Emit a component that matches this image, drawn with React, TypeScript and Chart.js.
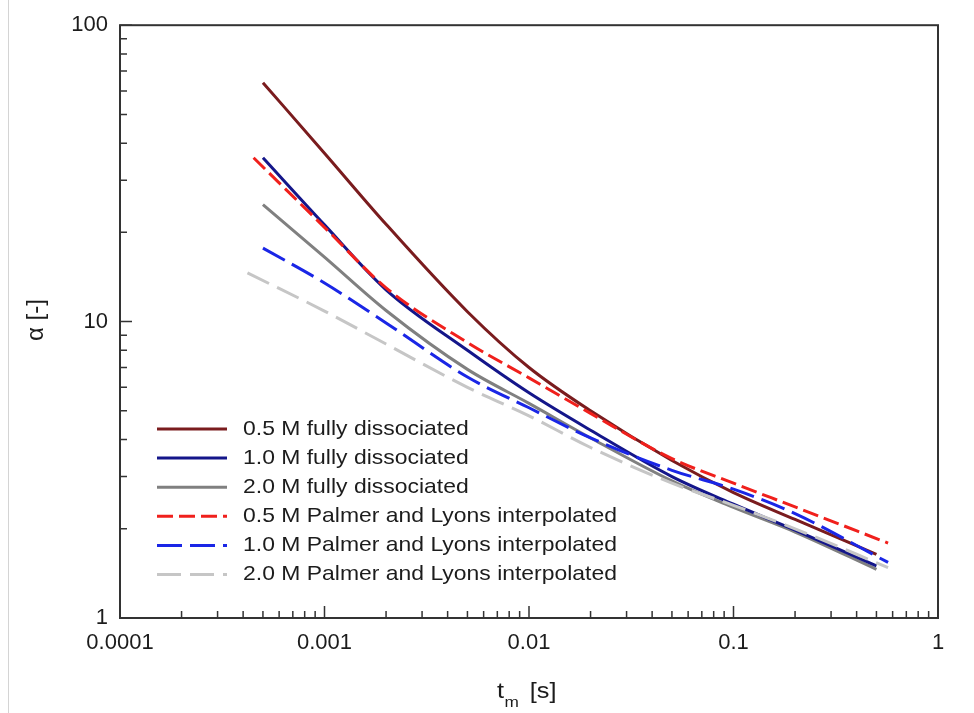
import React, { useEffect, useRef } from "react";
import { Chart, registerables } from "chart.js";

Chart.register(...registerables);

// ---- Axis ticks ----
const X_TICKS = [0.0001, 0.001, 0.01, 0.1, 1];
const X_TICK_LABELS = ["0.0001", "0.001", "0.01", "0.1", "1"];
const Y_TICKS = [1, 10, 100];
const Y_TICK_LABELS = ["1", "10", "100"];

// ---- Series (t_m [s] vs alpha [-]) ----
const T_FULLY = [0.0005, 0.001, 0.002, 0.005, 0.01, 0.02, 0.05, 0.1, 0.2, 0.5];
const FULLY_05 = [64, 37, 21.3, 10.8, 7.0, 5.0, 3.4, 2.65, 2.15, 1.64];
const FULLY_10 = [35.7, 21.2, 12.8, 8.0, 5.75, 4.3, 3.0, 2.42, 1.98, 1.5];
const FULLY_20 = [24.8, 16.5, 10.9, 6.9, 5.3, 4.05, 2.9, 2.36, 1.95, 1.46];

const T_PL_05 = [0.00045, 0.001, 0.002, 0.005, 0.01, 0.02, 0.05, 0.1, 0.2, 0.57];
const PL_05 = [35.7, 20.8, 13.0, 8.5, 6.46, 4.9, 3.45, 2.85, 2.37, 1.79];
const T_PL_10 = [0.0005, 0.001, 0.002, 0.005, 0.01, 0.02, 0.05, 0.1, 0.2, 0.57];
const PL_10 = [17.7, 13.5, 9.9, 6.5, 5.12, 4.05, 3.15, 2.72, 2.25, 1.54];
const T_PL_20 = [0.00042, 0.001, 0.002, 0.005, 0.01, 0.02, 0.05, 0.1, 0.2, 0.57];
const PL_20 = [14.6, 10.85, 8.4, 6.0, 4.81, 3.76, 2.85, 2.4, 2.0, 1.48];

const LABELS = [
  "0.5 M fully dissociated",
  "1.0 M fully dissociated",
  "2.0 M fully dissociated",
  "0.5 M Palmer and Lyons interpolated",
  "1.0 M Palmer and Lyons interpolated",
  "2.0 M Palmer and Lyons interpolated",
];

const FONT = "'Liberation Sans', Arial, Helvetica, sans-serif";
const TEXT = "#1c1c1c";
const AXIS = "#333333";

function pts(xs: number[], ys: number[]) {
  return xs.map((x, i) => ({ x, y: ys[i] }));
}

export default function App() {
  const ref = useRef<HTMLCanvasElement>(null);

  useEffect(() => {
    document.body.style.margin = "0";
    const canvas = ref.current!;

    const decor = {
      id: "decor",
      afterDraw(chart: any) {
        const c = chart.ctx as CanvasRenderingContext2D;
        const a = chart.chartArea;
        const xs = chart.scales.x;
        const ys = chart.scales.y;
        c.save();
        // frame
        c.strokeStyle = AXIS;
        c.lineWidth = 2;
        c.strokeRect(a.left, a.top, a.right - a.left, a.bottom - a.top);
        // inward ticks
        c.lineWidth = 1.5;
        c.beginPath();
        for (let d = -4; d <= 0; d++) {
          for (let k = 1; k <= 9; k++) {
            const v = k * Math.pow(10, d);
            if (v > 1.0000001) break;
            const px = xs.getPixelForValue(v);
            const len = k === 1 ? 12 : 7;
            c.moveTo(px, a.bottom);
            c.lineTo(px, a.bottom - len);
          }
        }
        for (let d = 0; d <= 2; d++) {
          for (let k = 1; k <= 9; k++) {
            const v = k * Math.pow(10, d);
            if (v > 100.00001) break;
            const py = ys.getPixelForValue(v);
            const len = k === 1 ? 12 : 7;
            c.moveTo(a.left, py);
            c.lineTo(a.left + len, py);
          }
        }
        c.stroke();

        // legend inside plot
        const ds = chart.data.datasets;
        const lx0 = 157;
        const lx1 = 227;
        const tx = 243;
        let y = 429;
        c.textBaseline = "middle";
        c.textAlign = "left";
        c.font = `21px ${FONT}`;
        const wRef = c.measureText(LABELS[3]).width;
        const sx = 374 / wRef;
        for (let i = 0; i < ds.length; i++) {
          const d = ds[i];
          c.strokeStyle = d.borderColor;
          c.lineWidth = d.borderWidth;
          c.setLineDash(d.borderDash || []);
          c.beginPath();
          c.moveTo(lx0, y);
          c.lineTo(lx1, y);
          c.stroke();
          c.setLineDash([]);
          c.fillStyle = TEXT;
          c.save();
          c.translate(tx, y);
          c.scale(sx, 1);
          c.fillText(d.label, 0, 0);
          c.restore();
          y += 29.1;
        }

        // axis titles
        c.fillStyle = TEXT;
        c.textBaseline = "alphabetic";
        c.save();
        c.translate(497, 698);
        c.scale(1.15, 1);
        c.font = `22px ${FONT}`;
        c.fillText("t", 0, 0);
        c.font = `15px ${FONT}`;
        c.fillText("m", 6.5, 9);
        c.font = `22px ${FONT}`;
        c.fillText("[s]", 28.5, 0);
        c.restore();

        c.translate(36, 320);
        c.rotate(-Math.PI / 2);
        c.textAlign = "center";
        c.textBaseline = "middle";
        c.font = `24px ${FONT}`;
        c.fillText("\u03b1 [-]", 0, 0);
        c.restore();
      },
    };

    const solid = (label: string, color: string, data: any) => ({
      label,
      data,
      borderColor: color,
      backgroundColor: color,
      borderWidth: 3,
      borderDash: [] as number[],
      pointRadius: 0,
      fill: false,
      cubicInterpolationMode: "monotone",
      order: 2,
    });
    const dashed = (label: string, color: string, data: any, dash: number[]) => ({
      label,
      data,
      borderColor: color,
      backgroundColor: color,
      borderWidth: 3,
      borderDash: dash,
      pointRadius: 0,
      fill: false,
      cubicInterpolationMode: "monotone",
      order: 1,
    });

    const chart = new Chart(canvas, {
      type: "line",
      data: {
        datasets: [
          solid(LABELS[0], "#7a1c1e", pts(T_FULLY, FULLY_05)),
          solid(LABELS[1], "#14168a", pts(T_FULLY, FULLY_10)),
          solid(LABELS[2], "#808080", pts(T_FULLY, FULLY_20)),
          dashed(LABELS[3], "#f0201c", pts(T_PL_05, PL_05), [16, 6]),
          dashed(LABELS[4], "#1a26e6", pts(T_PL_10, PL_10), [25, 8]),
          dashed(LABELS[5], "#c6c6c6", pts(T_PL_20, PL_20), [24, 9]),
        ] as any,
      },
      options: {
        responsive: false,
        animation: false,
        layout: { padding: { left: 0, top: 23, right: 36, bottom: 0 } },
        plugins: { legend: { display: false }, tooltip: { enabled: false } },
        scales: {
          x: {
            type: "logarithmic",
            min: 0.0001,
            max: 1,
            afterBuildTicks: (s: any) => {
              s.ticks = X_TICKS.map((v) => ({ value: v }));
            },
            afterFit: (s: any) => {
              s.height = 95;
            },
            grid: { display: false, drawTicks: false },
            border: { display: false },
            ticks: {
              autoSkip: false,
              maxRotation: 0,
              padding: 12,
              color: TEXT,
              font: { family: FONT, size: 22 },
              callback: (_v: any, i: number) => X_TICK_LABELS[i],
            },
          },
          y: {
            type: "logarithmic",
            min: 1,
            max: 100,
            afterBuildTicks: (s: any) => {
              s.ticks = Y_TICKS.map((v) => ({ value: v }));
            },
            afterFit: (s: any) => {
              s.width = 120;
            },
            grid: { display: false, drawTicks: false },
            border: { display: false },
            ticks: {
              autoSkip: false,
              padding: 12,
              color: TEXT,
              font: { family: FONT, size: 22 },
              callback: (_v: any, i: number) => Y_TICK_LABELS[i],
            },
          },
        },
      } as any,
      plugins: [decor],
    });

    return () => chart.destroy();
  }, []);

  return (
    <div style={{ position: "relative", width: 974, height: 713, background: "#fff" }}>
      <canvas ref={ref} width={974} height={713} style={{ display: "block" }} />
      <div
        style={{
          position: "absolute",
          left: 8,
          top: 0,
          width: 1,
          height: 713,
          background: "#d4d4d4",
        }}
      />
    </div>
  );
}
